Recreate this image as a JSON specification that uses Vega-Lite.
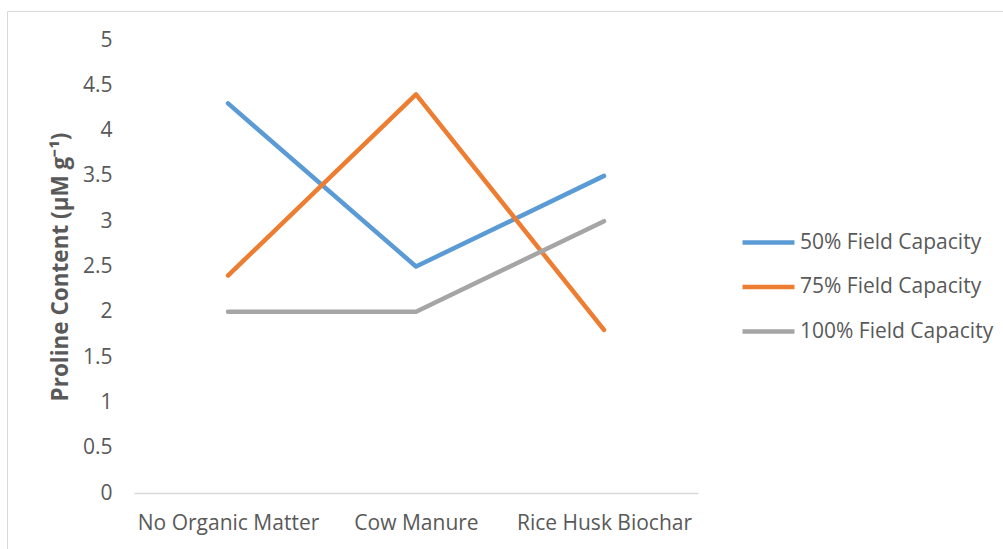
{
  "$schema": "https://vega.github.io/schema/vega-lite/v6.json",
  "width": 996,
  "height": 538,
  "autosize": {"type": "none"},
  "padding": {"left": 7, "top": 11, "right": 0, "bottom": 0},
  "background": "white",
  "config": {
    "view": {"stroke": "#D9D9D9", "strokeWidth": 1},
    "font": "Open Sans",
    "axis": {"grid": false}
  },
  "data": {
    "values": [
      {"treatment": "No Organic Matter", "series": "50% Field Capacity", "value": 4.3},
      {"treatment": "Cow Manure", "series": "50% Field Capacity", "value": 2.5},
      {"treatment": "Rice Husk Biochar", "series": "50% Field Capacity", "value": 3.5},
      {"treatment": "No Organic Matter", "series": "75% Field Capacity", "value": 2.4},
      {"treatment": "Cow Manure", "series": "75% Field Capacity", "value": 4.4},
      {"treatment": "Rice Husk Biochar", "series": "75% Field Capacity", "value": 1.8},
      {"treatment": "No Organic Matter", "series": "100% Field Capacity", "value": 2.0},
      {"treatment": "Cow Manure", "series": "100% Field Capacity", "value": 2.0},
      {"treatment": "Rice Husk Biochar", "series": "100% Field Capacity", "value": 3.0}
    ]
  },
  "mark": {"type": "line", "strokeWidth": 4.5, "strokeCap": "round", "strokeJoin": "round"},
  "encoding": {
    "x": {
      "field": "treatment",
      "type": "nominal",
      "sort": ["No Organic Matter", "Cow Manure", "Rice Husk Biochar"],
      "scale": {"type": "point", "range": [127, 691], "padding": 0.5},
      "axis": {
        "title": null,
        "orient": "bottom",
        "offset": -56,
        "domainColor": "#D9D9D9",
        "domainWidth": 1.5,
        "ticks": false,
        "tickSize": 0,
        "labelAngle": 0,
        "labelFontSize": 21,
        "labelLimit": 400,
        "labelColor": "#595959",
        "labelPadding": 19
      }
    },
    "y": {
      "field": "value",
      "type": "quantitative",
      "scale": {"domain": [0, 5], "range": [482, 29], "nice": false, "zero": true},
      "axis": {
        "title": "Proline Content (µM g⁻¹)",
        "orient": "left",
        "offset": -128,
        "values": [0, 0.5, 1, 1.5, 2, 2.5, 3, 3.5, 4, 4.5, 5],
        "format": "~g",
        "domain": false,
        "ticks": false,
        "tickSize": 0,
        "labelFontSize": 21,
        "labelColor": "#595959",
        "labelPadding": 23,
        "titleFontSize": 22.5,
        "titleFontWeight": "bold",
        "titleColor": "#595959",
        "titlePadding": 10
      }
    },
    "color": {
      "field": "series",
      "type": "nominal",
      "scale": {
        "domain": ["50% Field Capacity", "75% Field Capacity", "100% Field Capacity"],
        "range": ["#5B9BD5", "#ED7D31", "#A5A5A5"]
      },
      "legend": {
        "title": null,
        "orient": "none",
        "legendX": 733,
        "legendY": 203,
        "symbolType": "stroke",
        "symbolSize": 2700,
        "symbolStrokeWidth": 4.5,
        "labelFontSize": 21,
        "labelLimit": 400,
        "labelColor": "#595959",
        "labelOffset": 3,
        "rowPadding": 5.5
      }
    }
  }
}
